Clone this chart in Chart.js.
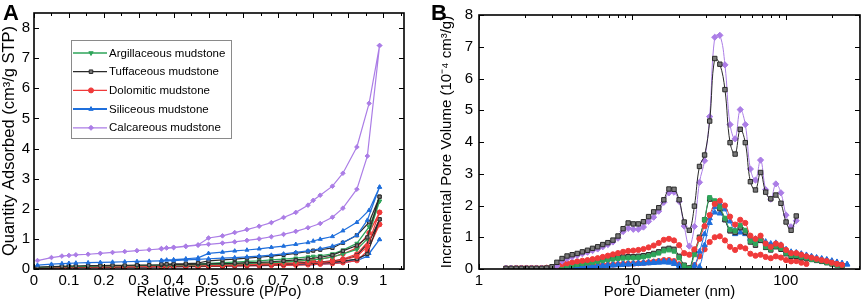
<!DOCTYPE html>
<html>
<head>
<meta charset="utf-8">
<script src="https://cdn.jsdelivr.net/npm/chart.js@4"></script>
<style>
  body { margin: 0; background: #fff; }
  #wrap { position: relative; width: 865px; height: 304px; font-family: "Liberation Sans", Arial, sans-serif; }
  canvas { position: absolute; top: 0; }
  #cA { left: 0; }
  #cB { left: 430px; }
  .tag { position: absolute; top: 2px; font-weight: bold; font-size: 22px; line-height: 22px; }
</style>
</head>
<body>
<div id="wrap">
  <canvas id="cA" width="430" height="304"></canvas>
  <canvas id="cB" width="435" height="304"></canvas>
  <div class="tag" style="left:3px">A</div>
  <div class="tag" style="left:431px">B</div>
</div>
<script>
// ---- Panel A: isotherms (adsorption branch up, desorption branch back down)
const pAds = [0.01, 0.05, 0.08, 0.1, 0.12, 0.155, 0.19, 0.225, 0.26, 0.295, 0.33, 0.365, 0.4, 0.435, 0.47,
              0.5, 0.54, 0.575, 0.61, 0.645, 0.68, 0.715, 0.75, 0.785, 0.82, 0.855, 0.885, 0.925, 0.955, 0.99];
const pDes = [0.99, 0.96, 0.925, 0.885, 0.855, 0.82, 0.8, 0.785, 0.75, 0.715, 0.68, 0.645, 0.61, 0.575, 0.54,
              0.5, 0.47, 0.435, 0.4, 0.38, 0.365];

const calAds = [0.28, 0.38, 0.43, 0.45, 0.47, 0.49, 0.52, 0.55, 0.58, 0.61, 0.64, 0.67, 0.71, 0.75, 0.79,
                0.82, 0.86, 0.9, 0.95, 1.0, 1.07, 1.15, 1.25, 1.37, 1.51, 1.72, 2.02, 2.65, 3.75, 7.42];
const calDes = [7.42, 5.5, 4.05, 3.18, 2.75, 2.45, 2.28, 2.12, 1.88, 1.71, 1.54, 1.42, 1.31, 1.21, 1.1,
                1.03, 0.8, 0.76, 0.72, 0.7, 0.68];
const sil1Ads = [0.13, 0.16, 0.18, 0.19, 0.2, 0.21, 0.22, 0.23, 0.24, 0.25, 0.26, 0.27, 0.28, 0.3, 0.32,
                 0.34, 0.36, 0.38, 0.4, 0.43, 0.46, 0.5, 0.55, 0.6, 0.67, 0.76, 0.88, 1.12, 1.62, 2.72];
const sil1Des = [2.72, 1.95, 1.55, 1.27, 1.08, 0.99, 0.93, 0.88, 0.82, 0.76, 0.72, 0.67, 0.63, 0.6, 0.56,
                 0.52, 0.37, 0.34, 0.31, 0.3, 0.29];
const sil2Ads = [0.03, 0.04, 0.05, 0.05, 0.05, 0.06, 0.06, 0.06, 0.07, 0.07, 0.07, 0.08, 0.08, 0.08, 0.09,
                 0.09, 0.1, 0.1, 0.11, 0.11, 0.12, 0.13, 0.14, 0.15, 0.16, 0.18, 0.21, 0.28, 0.42, 0.98];
const sil2Des = [0.98, 0.52, 0.33, 0.25, 0.2, 0.18, 0.17, 0.16, 0.15, 0.14, 0.13, 0.12, 0.12, 0.11, 0.11,
                 0.1, 0.1, 0.09, 0.09, 0.09, 0.08];
const tuf1Ads = [0.06, 0.08, 0.09, 0.1, 0.1, 0.11, 0.11, 0.12, 0.12, 0.13, 0.13, 0.14, 0.15, 0.15, 0.16,
                 0.17, 0.18, 0.19, 0.21, 0.22, 0.24, 0.27, 0.3, 0.34, 0.39, 0.46, 0.6, 0.78, 1.05, 2.4];
const tuf1Des = [2.4, 1.55, 1.12, 0.87, 0.7, 0.64, 0.61, 0.58, 0.52, 0.47, 0.43, 0.39, 0.36, 0.33, 0.3,
                 0.27, 0.2, 0.18, 0.17, 0.16, 0.16];
const tuf2Ads = [0.03, 0.04, 0.05, 0.05, 0.05, 0.06, 0.06, 0.06, 0.07, 0.07, 0.07, 0.08, 0.08, 0.09, 0.09,
                 0.1, 0.1, 0.11, 0.12, 0.13, 0.14, 0.15, 0.17, 0.18, 0.2, 0.22, 0.26, 0.33, 0.5, 1.65];
const tuf2Des = [1.65, 0.9, 0.45, 0.3, 0.26, 0.24, 0.23, 0.22, 0.2, 0.18, 0.17, 0.16, 0.15, 0.14, 0.13,
                 0.12, 0.11, 0.1, 0.1, 0.09, 0.09];
const dol1Ads = [0.04, 0.05, 0.06, 0.06, 0.07, 0.07, 0.07, 0.08, 0.08, 0.09, 0.09, 0.1, 0.1, 0.11, 0.11,
                 0.12, 0.12, 0.13, 0.14, 0.15, 0.16, 0.17, 0.18, 0.2, 0.22, 0.25, 0.3, 0.42, 0.75, 1.88];
const dol1Des = [1.88, 1.2, 0.7, 0.5, 0.4, 0.33, 0.3, 0.28, 0.25, 0.22, 0.2, 0.18, 0.17, 0.16, 0.15,
                 0.14, 0.13, 0.12, 0.12, 0.11, 0.11];
const dol2Ads = [0.03, 0.04, 0.04, 0.05, 0.05, 0.05, 0.06, 0.06, 0.06, 0.07, 0.07, 0.07, 0.08, 0.08, 0.08,
                 0.09, 0.09, 0.1, 0.1, 0.11, 0.12, 0.12, 0.13, 0.14, 0.16, 0.18, 0.21, 0.28, 0.6, 1.48];
const dol2Des = [1.48, 0.95, 0.5, 0.33, 0.27, 0.23, 0.22, 0.21, 0.19, 0.17, 0.16, 0.15, 0.14, 0.13, 0.12,
                 0.11, 0.1, 0.1, 0.09, 0.09, 0.09];
const argAds = [0.05, 0.07, 0.08, 0.08, 0.09, 0.09, 0.1, 0.1, 0.11, 0.11, 0.12, 0.12, 0.13, 0.14, 0.14,
                0.15, 0.16, 0.17, 0.18, 0.2, 0.21, 0.23, 0.26, 0.29, 0.33, 0.4, 0.5, 0.65, 1.0, 2.25];
const argDes = [2.25, 1.4, 0.85, 0.63, 0.5, 0.44, 0.42, 0.4, 0.36, 0.33, 0.3, 0.27, 0.25, 0.23, 0.21,
                0.19, 0.16, 0.15, 0.14, 0.13, 0.13];

const xTicksA = [0, 0.1, 0.2, 0.3, 0.4, 0.5, 0.6, 0.7, 0.8, 0.9, 1];
const xMinorA = [0.05, 0.15, 0.25, 0.35, 0.45, 0.55, 0.65, 0.75, 0.85, 0.95, 1.05];
const yTicksA = [0, 1, 2, 3, 4, 5, 6, 7, 8];

// ---- Panel B: pore size distribution
const diam = [1.50, 1.62, 1.75, 1.89, 2.04, 2.20, 2.37, 2.56, 2.76, 2.99,
              3.22, 3.48, 3.75, 4.05, 4.37, 4.72, 5.10, 5.50, 5.94, 6.41,
              6.92, 7.47, 8.06, 8.70, 9.39, 10.14, 10.94, 11.81, 12.76, 13.77,
              14.86, 16.04, 17.32, 18.69, 20.18, 21.78, 23.51, 25.38, 27.39, 29.57,
              31.92, 34.45, 37.19, 40.15, 43.34, 46.77, 50.49, 54.50, 58.83, 63.50,
              68.55, 74.00, 79.88, 86.22, 93.07, 100.5, 108.4, 117.1, 126.4, 136.4,
              147.2, 158.9, 171.6, 185.2, 199.9, 215.8, 232.9, 251.4];

const tufBig = [0.02, 0.02, 0.02, 0.02, 0.02, 0.02, 0.02, 0.02, 0.03, 0.07,
                0.21, 0.33, 0.41, 0.45, 0.49, 0.54, 0.59, 0.65, 0.70, 0.77,
                0.83, 0.91, 1.04, 1.27, 1.45, 1.42, 1.42, 1.49, 1.65, 1.80,
                1.93, 2.18, 2.52, 2.51, 2.18, 1.48, 1.22, 1.98, 3.23, 3.59,
                4.66, 6.63, 6.45, 5.65, 3.98, 3.62, 4.40, 3.98, 2.75, 2.49,
                3.04, 2.42, 2.21, 2.33, 2.07, 1.48, 1.22, 1.67, null, null,
                null, null, null, null, null, null, null, null];
const calPsd = [0.02, 0.02, 0.02, 0.02, 0.02, 0.02, 0.02, 0.02, 0.02, 0.04,
                0.10, 0.25, 0.33, 0.38, 0.43, 0.48, 0.53, 0.58, 0.63, 0.70,
                0.77, 0.85, 0.97, 1.18, 1.28, 1.25, 1.25, 1.32, 1.50, 1.63,
                1.82, 2.10, 2.40, 2.42, 2.13, 1.35, 0.72, 1.34, 2.73, 3.41,
                4.80, 7.30, 7.36, 6.43, 4.55, 4.10, 5.02, 4.55, 3.15, 2.80,
                3.43, 2.50, 2.20, 2.68, 2.40, 1.70, 1.33, 1.52, null, null,
                null, null, null, null, null, null, null, null];
const dolTop = [0.02, 0.02, 0.03, 0.03, 0.03, 0.03, 0.03, 0.03, 0.04, 0.05,
                0.10, 0.15, 0.18, 0.21, 0.24, 0.26, 0.28, 0.31, 0.34, 0.38,
                0.42, 0.46, 0.50, 0.54, 0.57, 0.58, 0.60, 0.63, 0.68, 0.74,
                0.82, 0.92, 0.95, 0.90, 0.75, 0.50, 0.45, 0.62, 0.95, 1.35,
                1.70, 2.05, 2.15, 2.00, 1.65, 1.40, 1.55, 1.45, 1.05, 0.95,
                1.05, 0.80, 0.70, 0.80, 0.75, 0.60, 0.50, 0.50, 0.45, 0.40,
                0.36, 0.32, 0.28, 0.25, 0.20, 0.16, 0.13, null];
const dolLow = [0.01, 0.01, 0.01, 0.01, 0.01, 0.01, 0.01, 0.01, 0.01, 0.02,
                0.03, 0.04, 0.05, 0.06, 0.07, 0.08, 0.09, 0.10, 0.11, 0.12,
                0.13, 0.14, 0.15, 0.16, 0.17, 0.17, 0.18, 0.19, 0.21, 0.23,
                0.25, 0.28, 0.28, 0.25, 0.15, 0.05, 0.03, 0.12, 0.40, 0.62,
                0.85, 1.00, 1.03, 0.90, 0.70, 0.60, 0.70, 0.65, 0.48, 0.42,
                0.45, 0.38, 0.34, 0.40, 0.36, 0.28, 0.24, 0.25, 0.20, 0.16,
                null, null, null, null, null, null, null, null];
const tufSmall = [0.01, 0.01, 0.01, 0.01, 0.01, 0.01, 0.01, 0.01, 0.01, 0.02,
                  0.05, 0.08, 0.11, 0.14, 0.16, 0.19, 0.21, 0.24, 0.27, 0.30,
                  0.32, 0.35, 0.37, 0.38, 0.39, 0.39, 0.40, 0.42, 0.45, 0.49,
                  0.54, 0.62, 0.65, 0.62, 0.40, 0.12, 0.03, 0.55, 1.00, 1.55,
                  2.20, 2.10, 1.90, 1.55, 1.20, 1.15, 1.30, 1.15, 0.85, 0.75,
                  0.90, 0.68, 0.60, 0.70, 0.62, 0.48, 0.40, 0.40, 0.36, 0.33,
                  0.30, 0.27, 0.24, 0.20, 0.16, 0.13, 0.10, null];
const argPsd = [0.01, 0.01, 0.01, 0.01, 0.01, 0.01, 0.01, 0.01, 0.01, 0.02,
                0.04, 0.07, 0.10, 0.12, 0.14, 0.17, 0.19, 0.21, 0.24, 0.27,
                0.29, 0.31, 0.33, 0.34, 0.35, 0.35, 0.36, 0.38, 0.41, 0.45,
                0.50, 0.57, 0.60, 0.56, 0.35, 0.10, 0.02, 0.45, 0.95, 1.55,
                2.25, 2.15, 1.95, 1.60, 1.25, 1.20, 1.38, 1.22, 0.88, 0.80,
                0.95, 0.70, 0.62, 0.72, 0.65, 0.50, 0.42, 0.42, 0.38, 0.35,
                0.30, 0.28, 0.25, 0.20, 0.16, 0.12, 0.10, null];
const silTop = [0.02, 0.02, 0.02, 0.02, 0.02, 0.02, 0.02, 0.02, 0.02, 0.02,
                0.03, 0.04, 0.05, 0.06, 0.07, 0.08, 0.09, 0.10, 0.11, 0.12,
                0.13, 0.14, 0.15, 0.16, 0.17, 0.18, 0.19, 0.20, 0.21, 0.22,
                0.24, 0.25, 0.25, 0.22, 0.12, 0.03, 0.01, 0.12, 0.55, 1.10,
                1.60, 1.95, 2.05, 1.88, 1.50, 1.22, 1.28, 1.18, 0.98, 0.95,
                1.00, 0.86, 0.80, 0.82, 0.76, 0.62, 0.54, 0.52, 0.48, 0.44,
                0.40, 0.36, 0.33, 0.30, 0.26, 0.22, 0.18, 0.15];
const silLow = [0.01, 0.01, 0.01, 0.01, 0.01, 0.01, 0.01, 0.01, 0.01, 0.01,
                0.02, 0.02, 0.03, 0.04, 0.05, 0.05, 0.06, 0.07, 0.08, 0.09,
                0.10, 0.11, 0.12, 0.13, 0.14, 0.15, 0.16, 0.17, 0.18, 0.19,
                0.20, 0.21, 0.20, 0.16, 0.06, 0.01, 0.00, 0.00, 0.07, 0.75,
                1.45, 1.78, 1.75, 1.55, 1.22, 1.10, 1.15, 1.10, 0.95, 0.92,
                0.90, 0.80, 0.75, 0.78, 0.72, 0.56, 0.50, 0.50, 0.45, 0.41,
                0.37, 0.34, 0.31, 0.28, 0.24, 0.20, 0.17, 0.14];

const xTicksB = [1, 10, 100];
const xMinorB = [2, 3, 4, 5, 6, 7, 8, 9, 20, 30, 40, 50, 60, 70, 80, 90, 200, 300];
const yTicksB = [0, 1, 2, 3, 4, 5, 6, 7, 8];

const legendKinds = ['arg', 'tuf', 'dol', 'sil', 'cal'];
const legendNames = ['Argillaceous mudstone', 'Tuffaceous mudstone', 'Dolomitic mudstone',
                     'Siliceous mudstone', 'Calcareous mudstone'];

const FONT = '"Liberation Sans", Arial, sans-serif';
const look = {
  arg: { c: '#2ea55a', fill: '#2ea55a', ps: 'triangle', rot: 180 },
  tuf: { c: '#2a2a2a', fill: '#7a7a7a', ps: 'rect', rot: 0 },
  dol: { c: '#f03a3a', fill: '#f03a3a', ps: 'circle', rot: 0 },
  sil: { c: '#1f6fdc', fill: '#1f6fdc', ps: 'triangle', rot: 0 },
  cal: { c: '#ab7de6', fill: '#ab7de6', ps: 'rectRot', rot: 0 }
};

function loop(ads, des) {
  return pAds.map((p, i) => ({ x: p, y: ads[i] }))
    .concat(pDes.map((p, i) => ({ x: p, y: des[i] })));
}
function psd(vals) {
  return diam.map((d, i) => ({ x: d, y: vals[i] })).filter(p => p.y !== null);
}
function ds(kind, data, big, extra) {
  const s = look[kind];
  return Object.assign({
    data,
    borderColor: s.c,
    borderWidth: big ? 1 : 1.2,
    pointStyle: s.ps,
    pointRotation: s.rot,
    pointRadius: big ? (s.ps === 'circle' ? 2.6 : 3.1) : 2.3,
    pointBackgroundColor: s.fill,
    pointBorderColor: s.c,
    pointBorderWidth: 1,
    tension: big ? 0.4 : 0,
    fill: false
  }, extra || {});
}

// box + inward ticks on all four sides
const frame = {
  id: 'frame',
  afterDatasetsDraw(chart, args, o) {
    const { ctx, chartArea: a } = chart;
    const x = chart.scales.x, y = chart.scales.y;
    ctx.save();
    ctx.strokeStyle = '#000';
    ctx.lineWidth = 1;
    ctx.beginPath();
    const seg = (x1, y1, x2, y2) => { ctx.moveTo(x1, y1); ctx.lineTo(x2, y2); };
    o.xMajor.forEach(v => {
      const p = Math.round(x.getPixelForValue(v)) + 0.5;
      seg(p, a.bottom, p, a.bottom - 5); seg(p, a.top, p, a.top + 5);
    });
    o.xMinor.forEach(v => {
      const p = Math.round(x.getPixelForValue(v)) + 0.5;
      if (p < a.left || p > a.right) return;
      seg(p, a.bottom, p, a.bottom - 3); seg(p, a.top, p, a.top + 3);
    });
    o.yMajor.forEach(v => {
      const p = Math.round(y.getPixelForValue(v)) + 0.5;
      seg(a.left, p, a.left + 5, p); seg(a.right, p, a.right - 5, p);
    });
    ctx.stroke();
    ctx.lineWidth = 1.6;
    ctx.strokeRect(a.left, a.top, a.width, a.height);
    ctx.restore();
  }
};

// boxed legend inside panel A
const boxLegend = {
  id: 'boxLegend',
  afterDraw(chart) {
    const { ctx, chartArea: a } = chart;
    const L = a.left + 37, T = a.top + 27;
    ctx.save();
    ctx.fillStyle = '#fff';
    ctx.fillRect(L, T, 160, 98);
    ctx.strokeStyle = '#8a8a8a';
    ctx.lineWidth = 1;
    ctx.strokeRect(L + 0.5, T + 0.5, 160, 98);
    legendNames.forEach((n, i) => {
      const s = look[legendKinds[i]];
      const yy = T + 13 + i * 18.7;
      ctx.strokeStyle = s.c;
      ctx.lineWidth = legendKinds[i] === 'sil' ? 2 : 1.3;
      ctx.beginPath(); ctx.moveTo(L + 2, yy); ctx.lineTo(L + 36, yy); ctx.stroke();
      ctx.fillStyle = s.fill;
      ctx.lineWidth = 1;
      if (Chart.helpers && Chart.helpers.drawPoint) {
        Chart.helpers.drawPoint(ctx, { pointStyle: s.ps, radius: 2.5, rotation: s.rot, borderWidth: 1 }, L + 20, yy);
      }
      ctx.fillStyle = '#000';
      ctx.font = '11.5px ' + FONT;
      ctx.textBaseline = 'middle';
      ctx.textAlign = 'left';
      ctx.fillText(n, L + 38, yy + 0.5);
    });
    ctx.restore();
  }
};

function tickFont(size) { return { size, family: FONT }; }

new Chart(document.getElementById('cA'), {
  type: 'line',
  data: {
    datasets: [
      ds('cal', loop(calAds, calDes)),
      ds('sil', loop(sil1Ads, sil1Des)),
      ds('tuf', loop(tuf1Ads, tuf1Des)),
      ds('arg', loop(argAds, argDes)),
      ds('dol', loop(dol1Ads, dol1Des)),
      ds('tuf', loop(tuf2Ads, tuf2Des)),
      ds('dol', loop(dol2Ads, dol2Des)),
      ds('sil', loop(sil2Ads, sil2Des))
    ]
  },
  options: {
    animation: false,
    responsive: false,
    devicePixelRatio: 1,
    layout: { padding: { left: 0, right: 26, top: 13, bottom: 0 } },
    plugins: {
      legend: { display: false },
      tooltip: { enabled: false },
      frame: { xMajor: xTicksA, xMinor: xMinorA, yMajor: yTicksA }
    },
    scales: {
      x: {
        type: 'linear', min: 0, max: 1.06,
        afterBuildTicks: s => { s.ticks = xTicksA.map(v => ({ value: v })); },
        afterFit: s => { s.height = 35; },
        grid: { display: false, drawTicks: false },
        border: { display: false },
        ticks: { padding: 3, color: '#000', font: tickFont(15), maxRotation: 0, autoSkip: false, callback: v => String(v) },
        title: { display: true, text: 'Relative Pressure (P/Po)', color: '#000',
                 font: { size: 15, family: FONT, lineHeight: 1 }, padding: { top: 0, bottom: 5 } }
      },
      y: {
        type: 'linear', min: 0, max: 8.5,
        afterBuildTicks: s => { s.ticks = yTicksA.map(v => ({ value: v })); },
        afterFit: s => { s.width = 34; },
        grid: { display: false, drawTicks: false },
        border: { display: false },
        ticks: { padding: 4, color: '#000', font: tickFont(15), callback: v => String(v) },
        title: { display: true, text: 'Quantity Adsorbed (cm³/g STP)', color: '#000',
                 font: { size: 16.5, family: FONT, lineHeight: 1 }, padding: { top: 1.5, bottom: 0 } }
      }
    }
  },
  plugins: [frame, boxLegend]
});

new Chart(document.getElementById('cB'), {
  type: 'line',
  data: {
    datasets: [
      ds('tuf', psd(tufBig), true),
      ds('cal', psd(calPsd), true),
      ds('dol', psd(dolTop), true),
      ds('arg', psd(argPsd), true, { pointStyle: 'rect', pointRotation: 0, pointRadius: 2.8 }),
      ds('tuf', psd(tufSmall), true),
      ds('sil', psd(silTop), true),
      ds('sil', psd(silLow), true),
      ds('dol', psd(dolLow), true)
    ]
  },
  options: {
    animation: false,
    responsive: false,
    devicePixelRatio: 1,
    layout: { padding: { left: 0, right: 2, top: 13, bottom: 0 } },
    plugins: {
      legend: { display: false },
      tooltip: { enabled: false },
      frame: { xMajor: xTicksB, xMinor: xMinorB, yMajor: yTicksB }
    },
    scales: {
      x: {
        type: 'logarithmic', min: 1, max: 305,
        afterBuildTicks: s => { s.ticks = xTicksB.map(v => ({ value: v })); },
        afterFit: s => { s.height = 35; },
        grid: { display: false, drawTicks: false },
        border: { display: false },
        ticks: { padding: 3, color: '#000', font: tickFont(15), maxRotation: 0, autoSkip: false, callback: v => String(v) },
        title: { display: true, text: 'Pore Diameter (nm)', color: '#000',
                 font: { size: 15, family: FONT, lineHeight: 1 }, padding: { top: 0, bottom: 5 } }
      },
      y: {
        type: 'linear', min: 0, max: 8,
        afterBuildTicks: s => { s.ticks = yTicksB.map(v => ({ value: v })); },
        afterFit: s => { s.width = 49; },
        grid: { display: false, drawTicks: false },
        border: { display: false },
        ticks: { padding: 6, color: '#000', font: tickFont(15), callback: v => String(v) },
        title: { display: true, text: 'Incremental Pore Volume (10⁻⁴ cm³/g)', color: '#000',
                 font: { size: 15, family: FONT, lineHeight: 1 }, padding: { top: 9, bottom: 0 } }
      }
    }
  },
  plugins: [frame]
});
</script>
</body>
</html>
